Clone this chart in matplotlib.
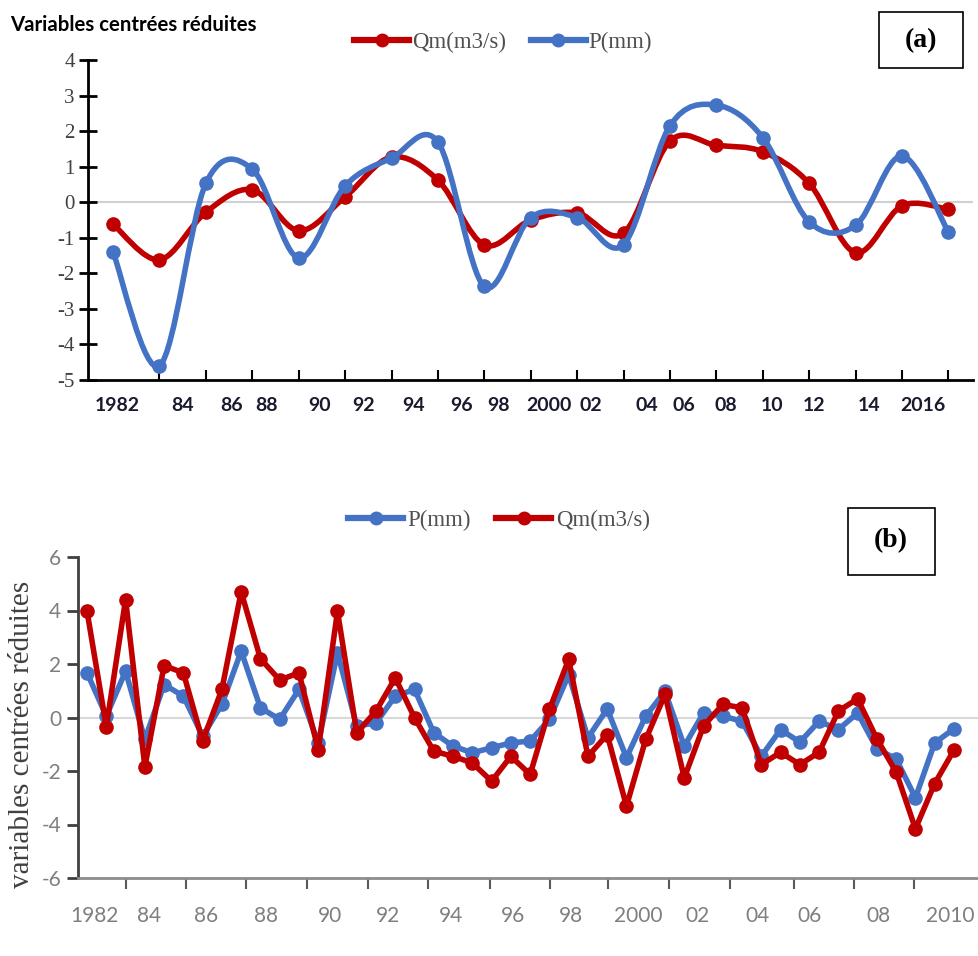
import numpy as np
import matplotlib
matplotlib.use("Agg")
import matplotlib.pyplot as plt
from matplotlib.path import Path
from matplotlib.patches import PathPatch, Rectangle
from matplotlib.lines import Line2D

# =========================
# Data
# =========================

# (a) biennial points 1982-2018
qm_a = [-0.62, -1.62, -0.28, 0.35, -0.80, 0.15, 1.27, 0.62, -1.20, -0.50,
        -0.30, -0.87, 1.72, 1.60, 1.42, 0.53, -1.42, -0.10, -0.20]
p_a = [-1.40, -4.60, 0.53, 0.93, -1.57, 0.46, 1.24, 1.69, -2.37, -0.43,
       -0.43, -1.19, 2.15, 2.73, 1.82, -0.55, -0.65, 1.30, -0.84]
labels_a = ["1982", "84", "86", "88", "90", "92", "94", "96", "98", "2000",
            "02", "04", "06", "08", "10", "12", "14", "2016"]
labelpos_a = [0.1, 1.5, 2.56, 3.3, 4.46, 5.4, 6.47, 7.5, 8.3, 9.4,
              10.3, 11.5, 12.3, 13.2, 14.2, 15.1, 16.3, 17.45]

# (b)
p_b = [1.67, 0.05, 1.73, -0.82, 1.23, 0.80, -0.70, 0.49, 2.48, 0.36, -0.07, 1.05,
       -0.95, 2.42, -0.32, -0.20, 0.80, 1.05, -0.57, -1.07, -1.32, -1.13, -0.95, -0.88,
       -0.07, 1.60, -0.76, 0.32, -1.50, 0.05, 0.98, -1.07, 0.17, 0.05, -0.14, -1.45,
       -0.45, -0.92, -0.14, -0.45, 0.17, -1.17, -1.55, -3.00, -0.95, -0.42]
qm_b = [3.97, -0.35, 4.41, -1.84, 1.94, 1.67, -0.88, 1.05, 4.70, 2.20, 1.40, 1.67,
        -1.20, 3.97, -0.57, 0.24, 1.48, -0.01, -1.26, -1.45, -1.70, -2.38, -1.45, -2.13,
        0.30, 2.17, -1.45, -0.64, -3.31, -0.82, 0.86, -2.26, -0.32, 0.49, 0.36, -1.76,
        -1.30, -1.76, -1.30, 0.24, 0.70, -0.80, -2.04, -4.16, -2.47, -1.22]
labels_b = ["1982", "84", "86", "88", "90", "92", "94", "96", "98", "2000",
            "02", "04", "06", "08", "2010"]
labelpos_b = [0.4, 3.2, 6.2, 9.3, 12.6, 15.6, 18.9, 22.1, 25.1, 28.6,
              31.7, 34.8, 37.5, 41.1, 44.8]
tickpos_b = [2.03, 5.14, 8.26, 11.4, 14.6, 17.7, 20.9, 24.05, 27.06, 30.2,
             33.4, 36.7, 39.8, 42.9]

RED = "#C00000"
BLUE = "#4472C4"

W, H = 979, 956
fig = plt.figure(figsize=(W / 100, H / 100), dpi=100)


def px_axes(x0, y0, x1, y1):
    return fig.add_axes([x0 / W, 1 - y1 / H, (x1 - x0) / W, (y1 - y0) / H])


def smooth_path(xs, ys):
    pts = np.column_stack([xs, ys]).astype(float)
    n = len(pts)
    verts = [pts[0]]
    codes = [Path.MOVETO]
    for i in range(n - 1):
        p0 = pts[i - 1] if i > 0 else pts[i]
        p1 = pts[i]
        p2 = pts[i + 1]
        p3 = pts[i + 2] if i + 2 < n else pts[i + 1]
        verts += [p1 + (p2 - p0) / 6, p2 - (p3 - p1) / 6, p2]
        codes += [Path.CURVE4] * 3
    return Path(verts, codes)


# =========================
# (a)
# =========================
ax = px_axes(88, 60, 973, 380)
xa = np.arange(len(qm_a))
ax.axhline(0, color="#d0d0d0", lw=1.5, zorder=1)
for ys, col, z in [(qm_a, RED, 2), (p_a, BLUE, 3)]:
    ax.add_patch(PathPatch(smooth_path(xa, ys), fill=False, edgecolor=col,
                           lw=4, capstyle="round", joinstyle="round", zorder=z))
    ax.plot(xa, ys, ls="none", marker="o", ms=9.5, color=col, zorder=z)
ax.set_xlim(-0.54, 18.53)
ax.set_ylim(-5, 4)
ax.set_yticks(range(-5, 5))
ax.set_yticklabels([str(v) for v in range(-5, 5)], family="Liberation Serif",
                   fontsize=15, color="#404040")
ax.set_xticks(labelpos_a)
ax.set_xticklabels(labels_a, family="Lato", fontsize=14, fontweight="bold",
                   color="#1a1a2e")
ax.set_xticks(np.arange(1, 19), minor=True)
ax.tick_params(axis="x", which="major", length=0, pad=12)
ax.tick_params(axis="x", which="minor", direction="in", length=7, width=1.5, color="black")
ax.tick_params(axis="y", direction="inout", length=13, width=2, color="black", pad=3)
for s in ["top", "right"]:
    ax.spines[s].set_visible(False)
for s in ["left", "bottom"]:
    ax.spines[s].set_linewidth(2)
    ax.spines[s].set_color("black")

fig.text(10 / W, 1 - 25 / H, "Variables centrées réduites",
         family="Lato", fontweight="bold", fontsize=14.7,
         va="center", ha="left", color="black")

handles_a = [Line2D([], [], color=RED, lw=4.5, marker="o", ms=9),
             Line2D([], [], color=BLUE, lw=4.5, marker="o", ms=9)]
fig.legend(handles_a, ["Qm(m3/s)", "P(mm)"], loc="center",
           bbox_to_anchor=(503 / W, 1 - 42 / H), ncol=2, frameon=False,
           prop={"family": "Liberation Serif", "size": 16.5}, labelcolor="#505050",
           handlelength=2.4, handletextpad=0.1, columnspacing=1.1)

fig.add_artist(Rectangle((879 / W, 1 - 68 / H), 84 / W, 56 / H, transform=fig.transFigure,
                         fill=False, edgecolor="black", lw=1.2))
fig.text(921 / W, 1 - 41 / H, "(a)", family="Liberation Serif", fontweight="bold",
         fontsize=20, ha="center", va="center")

# =========================
# (b)
# =========================
bx = px_axes(78, 557, 979, 878)
xb = np.arange(len(qm_b))
bx.axhline(0, color="#d9d9d9", lw=1.5, zorder=1)
bx.plot(xb, p_b, color=BLUE, lw=4, marker="o", ms=9.5, zorder=2)
bx.plot(xb, qm_b, color=RED, lw=4, marker="o", ms=9.5, zorder=3)
bx.set_xlim(-0.47, 46.3)
bx.set_ylim(-6, 6)
bx.set_yticks(range(-6, 7, 2))
bx.set_yticklabels([str(v) for v in range(-6, 7, 2)], family="Lato",
                   fontsize=15, color="#7f7f7f")
bx.set_xticks(labelpos_b)
bx.set_xticklabels(labels_b, family="Lato", fontsize=15, color="#7f7f7f")
bx.set_xticks(tickpos_b, minor=True)
bx.tick_params(axis="x", which="major", length=0, pad=20)
bx.tick_params(axis="x", which="minor", direction="out", length=8, width=1.5, color="#595959")
bx.tick_params(axis="y", direction="out", length=8, width=2, color="#404040", pad=4)
for s in ["top", "right"]:
    bx.spines[s].set_visible(False)
bx.spines["left"].set_linewidth(2)
bx.spines["left"].set_color("#404040")
bx.spines["bottom"].set_linewidth(2)
bx.spines["bottom"].set_color("#8c8c8c")

fig.text(22 / W, 1 - 734 / H, "variables centrées réduites", rotation=90,
         family="Liberation Serif", fontsize=21, color="#404040",
         ha="center", va="center")

handles_b = [Line2D([], [], color=BLUE, lw=4.5, marker="o", ms=9),
             Line2D([], [], color=RED, lw=4.5, marker="o", ms=9)]
fig.legend(handles_b, ["P(mm)", "Qm(m3/s)"], loc="center",
           bbox_to_anchor=(499 / W, 1 - 520 / H), ncol=2, frameon=False,
           prop={"family": "Liberation Serif", "size": 16.5}, labelcolor="#505050",
           handlelength=2.4, handletextpad=0.2, columnspacing=1.1)

fig.add_artist(Rectangle((848 / W, 1 - 575 / H), 87 / W, 67 / H, transform=fig.transFigure,
                         fill=False, edgecolor="black", lw=1.2))
fig.text(891 / W, 1 - 541 / H, "(b)", family="Liberation Serif", fontweight="bold",
         fontsize=20, ha="center", va="center")

fig.savefig("out.png", dpi=100)
